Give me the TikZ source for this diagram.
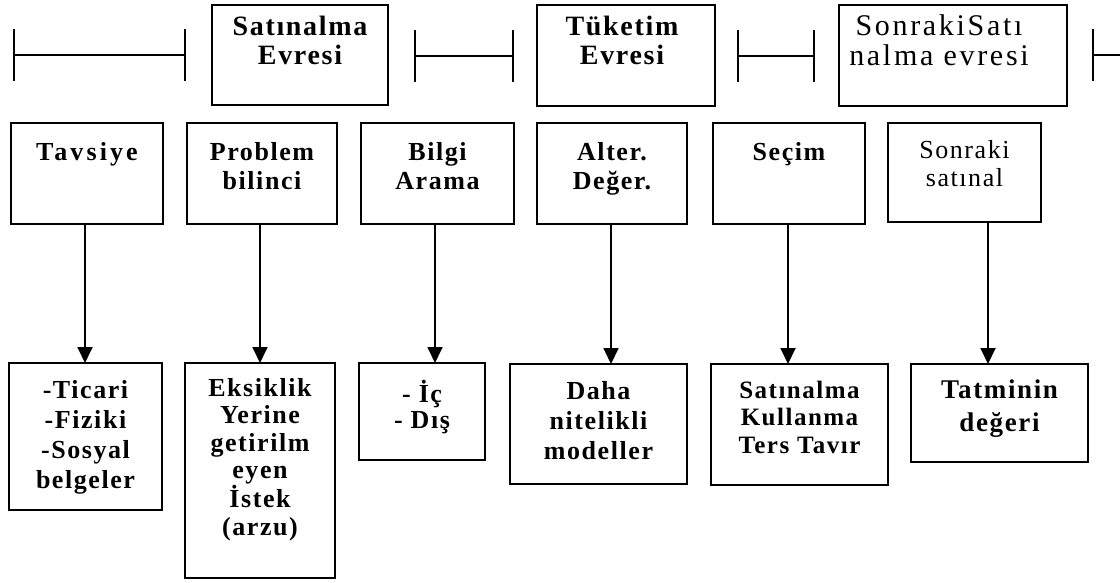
\documentclass[tikz,border=0pt]{standalone}
\usepackage{fontspec}
\setmainfont{Liberation Serif}
\newfontfamily\trackedserif[LetterSpace=6]{Liberation Serif}
\newfontfamily\looseserif[LetterSpace=12]{Liberation Serif}
\newfontfamily\wideserif[LetterSpace=9]{Liberation Serif}
\newcommand\hdrstrut{\rule{0pt}{24pt}}
\usetikzlibrary{arrows.meta,fit}
\begin{document}
\begin{tikzpicture}[x=1pt,y=-1pt,
  box/.style={draw, line width=2.6pt, inner sep=0pt, outer sep=0pt},
  lbl/.style={anchor=north, inner sep=0pt, outer sep=0pt, align=center},
  bigbold/.style={lbl, font=\trackedserif\bfseries\fontsize{28}{29.5}\selectfont},
  bigwide/.style={lbl, font=\wideserif\fontsize{30}{30}\selectfont},
  midbold/.style={lbl, font=\trackedserif\bfseries\fontsize{26}{29}\selectfont},
  midreg/.style={lbl, font=\trackedserif\fontsize{26}{28}\selectfont},
  arr/.style={line width=1.8pt, -{Triangle[width=15pt,length=16pt]}},
  phase/.style={line width=1.6pt,
    {Bar[width=52pt,line width=2.4pt]}-{Bar[width=52pt,line width=2.4pt]}},
  phaseopen/.style={line width=1.6pt, {Bar[width=52pt,line width=2.4pt]}-}]
\useasboundingbox (0,0) rectangle (1120,582);

% time line segments between the phase boxes
\coordinate (p1a) at (13,55);   \coordinate (p1b) at (186,55);
\coordinate (p2a) at (414,56);  \coordinate (p2b) at (514,56);
\coordinate (p3a) at (737,56);  \coordinate (p3b) at (815,56);
\coordinate (p4a) at (1092,55); \coordinate (p4b) at (1120,55);
\draw[phase] (p1a) -- (p1b);
\draw[phase] (p2a) -- (p2b);
\draw[phase] (p3a) -- (p3b);
\draw[phaseopen] (p4a) -- (p4b);

% phase boxes
\node[box, fit={(212,5) (388,105)}] (t1) {};
\node[box, fit={(537,5) (715,106)}] (t2) {};
\node[box, fit={(839,5) (1067,106)}] (t3) {};
\node[bigbold] (t1t) at ([yshift=-6pt]t1.north) {\hdrstrut Satınalma\\Evresi};
\node[bigbold] (t2t) at ([xshift=-4pt,yshift=-6pt]t2.north) {\hdrstrut Tüketim\\Evresi};
\node[bigwide] (t3t) at ([xshift=-14pt,yshift=-6pt]t3.north) {\hdrstrut SonrakiSatı\\nalma evresi};

% stage boxes
\node[box, fit={(11,123) (163,224)}]   (a1) {};
\node[box, fit={(187,123) (337,224)}]  (a2) {};
\node[box, fit={(361,123) (514,224)}]  (a3) {};
\node[box, fit={(537,123) (687,224)}]  (a4) {};
\node[box, fit={(713,123) (865,224)}]  (a5) {};
\node[box, fit={(888,123) (1041,222)}] (a6) {};
\node[midbold, font=\looseserif\bfseries\fontsize{26}{29}\selectfont]
  (a1t) at ([yshift=-13pt]a1.north) {\hdrstrut Tavsiye};
\node[midbold] (a2t) at ([yshift=-13pt]a2.north) {\hdrstrut Problem\\bilinci};
\node[midbold] (a3t) at ([yshift=-13pt]a3.north) {\hdrstrut Bilgi\\Arama};
\node[midbold] (a4t) at ([yshift=-13pt]a4.north) {\hdrstrut Alter.\\Değer.};
\node[midbold] (a5t) at ([yshift=-13pt]a5.north) {\hdrstrut Seçim};
\node[midreg]  (a6t) at ([yshift=-11pt]a6.north) {\hdrstrut Sonraki\\satınal};

% detail boxes
\node[box, fit={(9,363) (162,510)}]    (b1) {};
\node[box, fit={(185,363) (335,578)}]  (b2) {};
\node[box, fit={(359,363) (485,460)}]  (b3) {};
\node[box, fit={(510,364) (687,484)}]  (b4) {};
\node[box, fit={(711,364) (888,485)}]  (b5) {};
\node[box, fit={(911,364) (1088,462)}] (b6) {};
\node[midbold, font=\trackedserif\bfseries\fontsize{26}{30}\selectfont]
  (b1t) at ([yshift=-11pt]b1.north) {\hdrstrut -Ticari\\-Fiziki\\-Sosyal\\belgeler};
\node[midbold, font=\trackedserif\bfseries\fontsize{26}{27.6}\selectfont]
  (b2t) at ([yshift=-9pt]b2.north) {\hdrstrut Eksiklik\\Yerine\\getirilm\\eyen\\İstek\\(arzu)};
\node[midbold, font=\trackedserif\bfseries\fontsize{26}{26}\selectfont]
  (b3t) at ([yshift=-15pt]b3.north) {\hdrstrut - İç\\- Dış};
\node[midbold, font=\trackedserif\bfseries\fontsize{26}{30}\selectfont]
  (b4t) at ([yshift=-11pt]b4.north) {\hdrstrut Daha\\nitelikli\\modeller};
\node[midbold, font=\trackedserif\bfseries\fontsize{25}{27.5}\selectfont]
  (b5t) at ([yshift=-10pt]b5.north) {\hdrstrut Satınalma\\Kullanma\\Ters Tavır};
\node[midbold, font=\trackedserif\bfseries\fontsize{27}{33}\selectfont]
  (b6t) at ([yshift=-10pt]b6.north) {\hdrstrut Tatminin\\değeri};

% arrows from each stage to its details
\draw[arr] ([xshift=-2pt]a1.south)   -- ([xshift=-2pt]a1.south |- b1.north);
\draw[arr] ([xshift=-2pt]a2.south)   -- ([xshift=-2pt]a2.south |- b2.north);
\draw[arr] ([xshift=-2.5pt]a3.south) -- ([xshift=-2.5pt]a3.south |- b3.north);
\draw[arr] ([xshift=-1pt]a4.south)   -- ([xshift=-1pt]a4.south |- b4.north);
\draw[arr] ([xshift=-1pt]a5.south)   -- ([xshift=-1pt]a5.south |- b5.north);
\draw[arr] ([xshift=23.5pt]a6.south) -- ([xshift=23.5pt]a6.south |- b6.north);
\end{tikzpicture}
\end{document}
